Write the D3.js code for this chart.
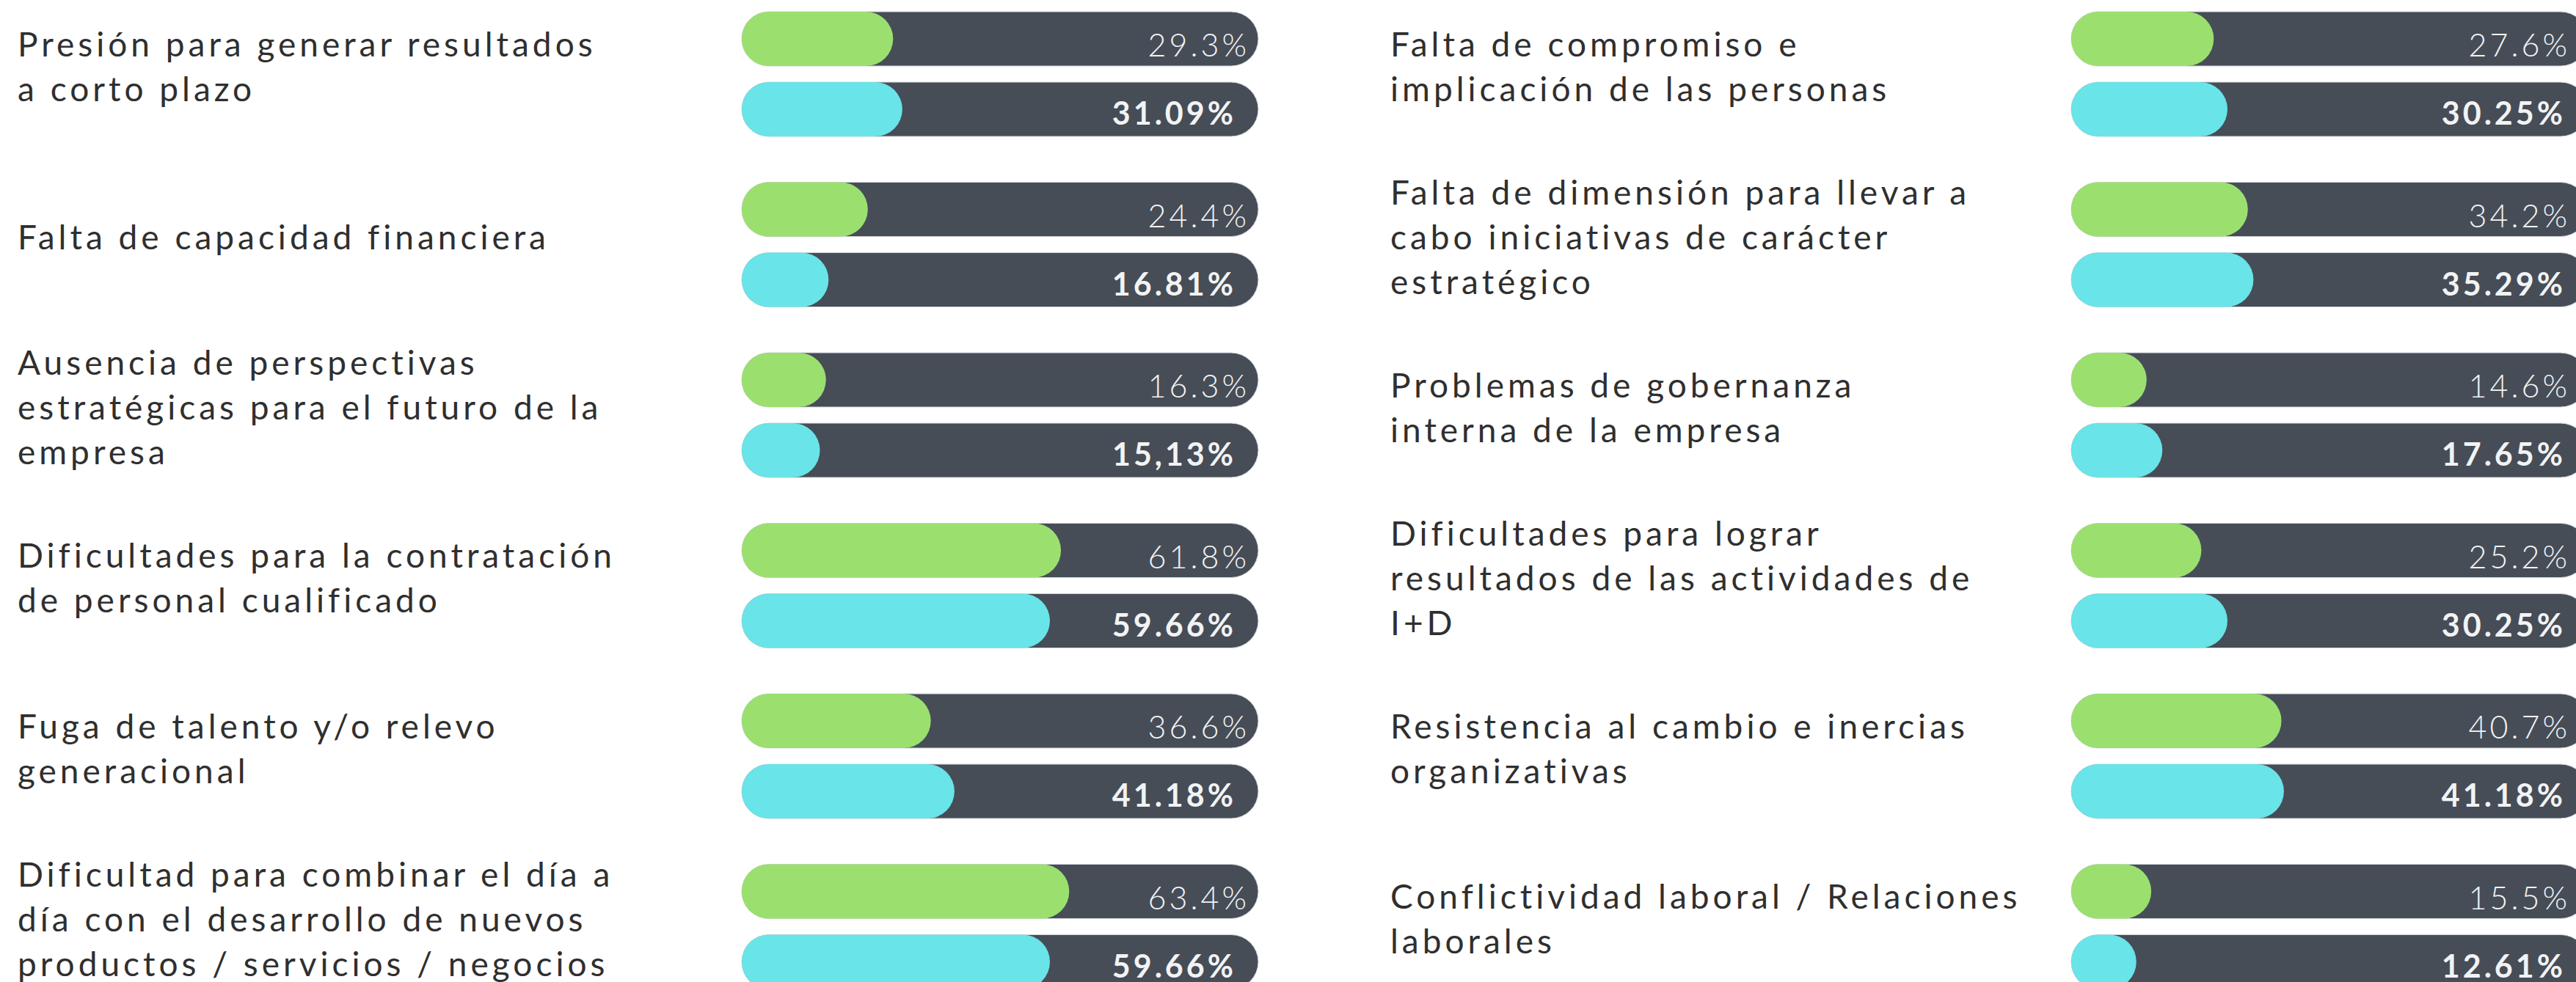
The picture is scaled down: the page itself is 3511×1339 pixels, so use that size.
<!DOCTYPE html>
<meta charset="utf-8">
<style>
    body { margin: 0; background: #fff; }
    .label { font-family: Lato, sans-serif; font-size: 46px; fill: #2f2f2f; letter-spacing: 5px; }
    .val { font-family: Lato, sans-serif; fill: #f2f3f4; }
    .val.g { font-size: 43px; font-weight: 300; letter-spacing: 4px; }
    .val.c { font-size: 43px; font-weight: 700; letter-spacing: 4px; }
</style>
<body>
<script src="https://cdn.jsdelivr.net/npm/d3@7"></script>
<script>

    // categories, split in the lines they are printed on
    var categories = [
        ["Presión para generar resultados", "a corto plazo"],
        ["Falta de capacidad financiera"],
        ["Ausencia de perspectivas", "estratégicas para el futuro de la", "empresa"],
        ["Dificultades para la contratación", "de personal cualificado"],
        ["Fuga de talento y/o relevo", "generacional"],
        ["Dificultad para combinar el día a", "día con el desarrollo de nuevos", "productos / servicios / negocios"],
        ["Falta de compromiso e", "implicación de las personas"],
        ["Falta de dimensión para llevar a", "cabo iniciativas de carácter", "estratégico"],
        ["Problemas de gobernanza", "interna de la empresa"],
        ["Dificultades para lograr", "resultados de las actividades de", "I+D"],
        ["Resistencia al cambio e inercias", "organizativas"],
        ["Conflictividad laboral / Relaciones", "laborales"]
    ];

    var greenValues = [29.3, 24.4, 16.3, 61.8, 36.6, 63.4, 27.6, 34.2, 14.6, 25.2, 40.7, 15.5];
    var cyanValues = [31.09, 16.81, 15.13, 59.66, 41.18, 59.66, 30.25, 35.29, 17.65, 30.25, 41.18, 12.61];

    var greenLabels = ["29.3%", "24.4%", "16.3%", "61.8%", "36.6%", "63.4%", "27.6%", "34.2%", "14.6%", "25.2%", "40.7%", "15.5%"];
    var cyanLabels = ["31.09%", "16.81%", "15,13%", "59.66%", "41.18%", "59.66%", "30.25%", "35.29%", "17.65%", "30.25%", "41.18%", "12.61%"];

    var width = 3511,
        height = 1339,
        perColumn = 6,
        barH = 74,
        barW = 704,
        cyanOffset = 96,
        lineH = 61;

    var colLabelX = [24, 1895],
        colBarX = [1011, 2823];

    var svg = d3.select("body").append("svg")
        .attr("width", width)
        .attr("height", height);

    var x = d3.scaleLinear().domain([0, 100]).range([0, barW]);

    var y = d3.scaleBand()
        .domain(d3.range(perColumn))
        .range([16, 16 + perColumn * 232.5])
        .paddingInner(0);

    var rows = categories.map(function (c, i) {
        return {
            lines: c,
            col: Math.floor(i / perColumn),
            row: i % perColumn,
            green: greenValues[i],
            cyan: cyanValues[i],
            gLabel: greenLabels[i],
            cLabel: cyanLabels[i]
        };
    });

    var group = svg.selectAll("g.item")
        .data(rows)
        .enter()
        .append("g")
        .attr("class", "item")
        .attr("transform", function (d) {
            return "translate(0," + y(d.row) + ")";
        });

    // labels
    group.append("text")
        .attr("class", "label")
        .attr("x", function (d) { return colLabelX[d.col]; })
        .selectAll("tspan")
        .data(function (d) {
            var mid = (cyanOffset + barH) / 2 + 6;
            return d.lines.map(function (l, k) {
                return { t: l, y: mid + (k - (d.lines.length - 1) / 2) * lineH, x: colLabelX[d.col] };
            });
        })
        .enter()
        .append("tspan")
        .attr("x", function (t) { return t.x; })
        .attr("y", function (t) { return t.y; })
        .text(function (t) { return t.t; });

    var series = [
        { key: "green", label: "gLabel", color: "#9be06f", dy: 0, cls: "g", pad: 12, edge: 8, base: 24 },
        { key: "cyan", label: "cLabel", color: "#69e4e8", dy: cyanOffset, cls: "c", pad: 30, edge: 10, base: 21 }
    ];

    series.forEach(function (s) {
        // dark track
        group.append("rect")
            .attr("x", function (d) { return colBarX[d.col]; })
            .attr("y", s.dy)
            .attr("width", barW)
            .attr("height", barH)
            .attr("rx", barH / 2)
            .attr("fill", "#464d57")
            .attr("stroke", "#cfd3d7")
            .attr("stroke-width", 1);

        // value fill
        group.append("rect")
            .attr("x", function (d) { return colBarX[d.col]; })
            .attr("y", s.dy)
            .attr("width", function (d) { return Math.max(barH, x(d[s.key])); })
            .attr("height", barH)
            .attr("rx", barH / 2)
            .attr("fill", s.color);

        group.append("text")
            .attr("class", "val " + s.cls)
            .attr("x", function (d) { return Math.min(colBarX[d.col] + barW - s.pad, width - s.edge); })
            .attr("y", s.dy + barH / 2 + s.base)
            .attr("text-anchor", "end")
            .text(function (d) { return d[s.label]; });
    });

</script>
</body>
